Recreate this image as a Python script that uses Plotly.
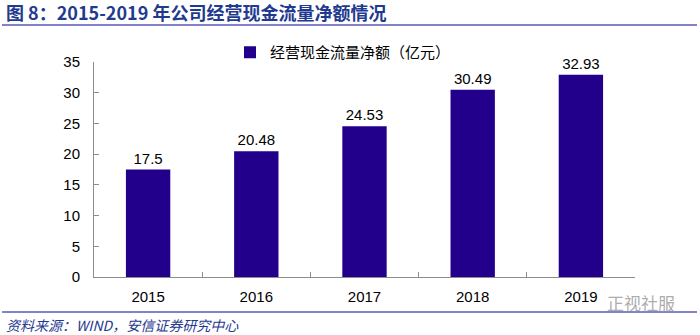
import plotly.graph_objects as go

years = ["2015", "2016", "2017", "2018", "2019"]
values = [17.5, 20.48, 24.53, 30.49, 32.93]
value_labels = ["17.5", "20.48", "24.53", "30.49", "32.93"]
series_name = "经营现金流量净额（亿元）"
title_text = "图 8：2015-2019 年公司经营现金流量净额情况"
source_text = "资料来源：WIND，安信证券研究中心"
watermark_text = "正视社服"

W, H = 700, 335
L, R, T, B = 94, 635, 62, 277  # plot area in pixels

def px(x):
    return (x - L) / (R - L)

def py(y):
    return (B - y) / (B - T)

fig = go.Figure()
fig.add_trace(go.Bar(
    x=years, y=values, name=series_name,
    marker=dict(color="#22008C", line=dict(width=0)),
    text=value_labels, textposition="outside", cliponaxis=False,
    textfont=dict(family="Liberation Sans, Arial", size=15, color="#000000"),
    showlegend=True,
))

fig.update_layout(
    width=W, height=H,
    margin=dict(l=L, r=W - R, t=T, b=H - B, pad=0),
    paper_bgcolor="white", plot_bgcolor="white",
    bargap=0.59,
    showlegend=True,
    legend=dict(
        orientation="h", x=px(230), xanchor="left", y=py(36), yanchor="top",
        font=dict(family="Noto Sans CJK SC", size=15, color="#000000"),
        bgcolor="rgba(0,0,0,0)", itemwidth=30,
    ),
    xaxis=dict(
        showline=True, linecolor="#8c8c8c", linewidth=1,
        ticks="inside", tickson="boundaries", ticklen=5, tickcolor="#8c8c8c",
        tickfont=dict(family="Liberation Sans, Arial", size=15, color="#000000"),
        showgrid=False, zeroline=False, ticklabelstandoff=6,
    ),
    yaxis=dict(
        range=[0, 35], dtick=5, showline=True, linecolor="#8c8c8c", linewidth=1,
        ticks="inside", ticklen=5, tickcolor="#8c8c8c",
        tickfont=dict(family="Liberation Sans, Arial", size=15, color="#000000"),
        showgrid=False, zeroline=False, ticklabelstandoff=10,
    ),
)

# header / footer rules
fig.add_shape(type="line", xref="paper", yref="paper",
              x0=px(2), x1=px(697), y0=py(25), y1=py(25),
              line=dict(color="#8282cc", width=2))
fig.add_shape(type="line", xref="paper", yref="paper",
              x0=px(2), x1=px(697), y0=py(312), y1=py(312),
              line=dict(color="#8282cc", width=2))

fig.add_annotation(xref="paper", yref="paper", x=px(4), y=py(12),
                   xanchor="left", yanchor="middle", showarrow=False,
                   text="<b>" + title_text + "</b>",
                   font=dict(family="Noto Sans CJK SC", size=18, color="#1F3A8F"))
fig.add_annotation(xref="paper", yref="paper", x=px(4), y=py(325),
                   xanchor="left", yanchor="middle", showarrow=False,
                   text="<i>" + source_text + "</i>",
                   font=dict(family="Noto Sans CJK SC", size=14, color="#1F3A8F"))
fig.add_annotation(xref="paper", yref="paper", x=px(605), y=py(302),
                   xanchor="left", yanchor="middle", showarrow=False,
                   text=watermark_text,
                   font=dict(family="Noto Sans CJK SC", size=17, color="rgba(150,150,150,0.8)"))

fig.write_html("out.html")
